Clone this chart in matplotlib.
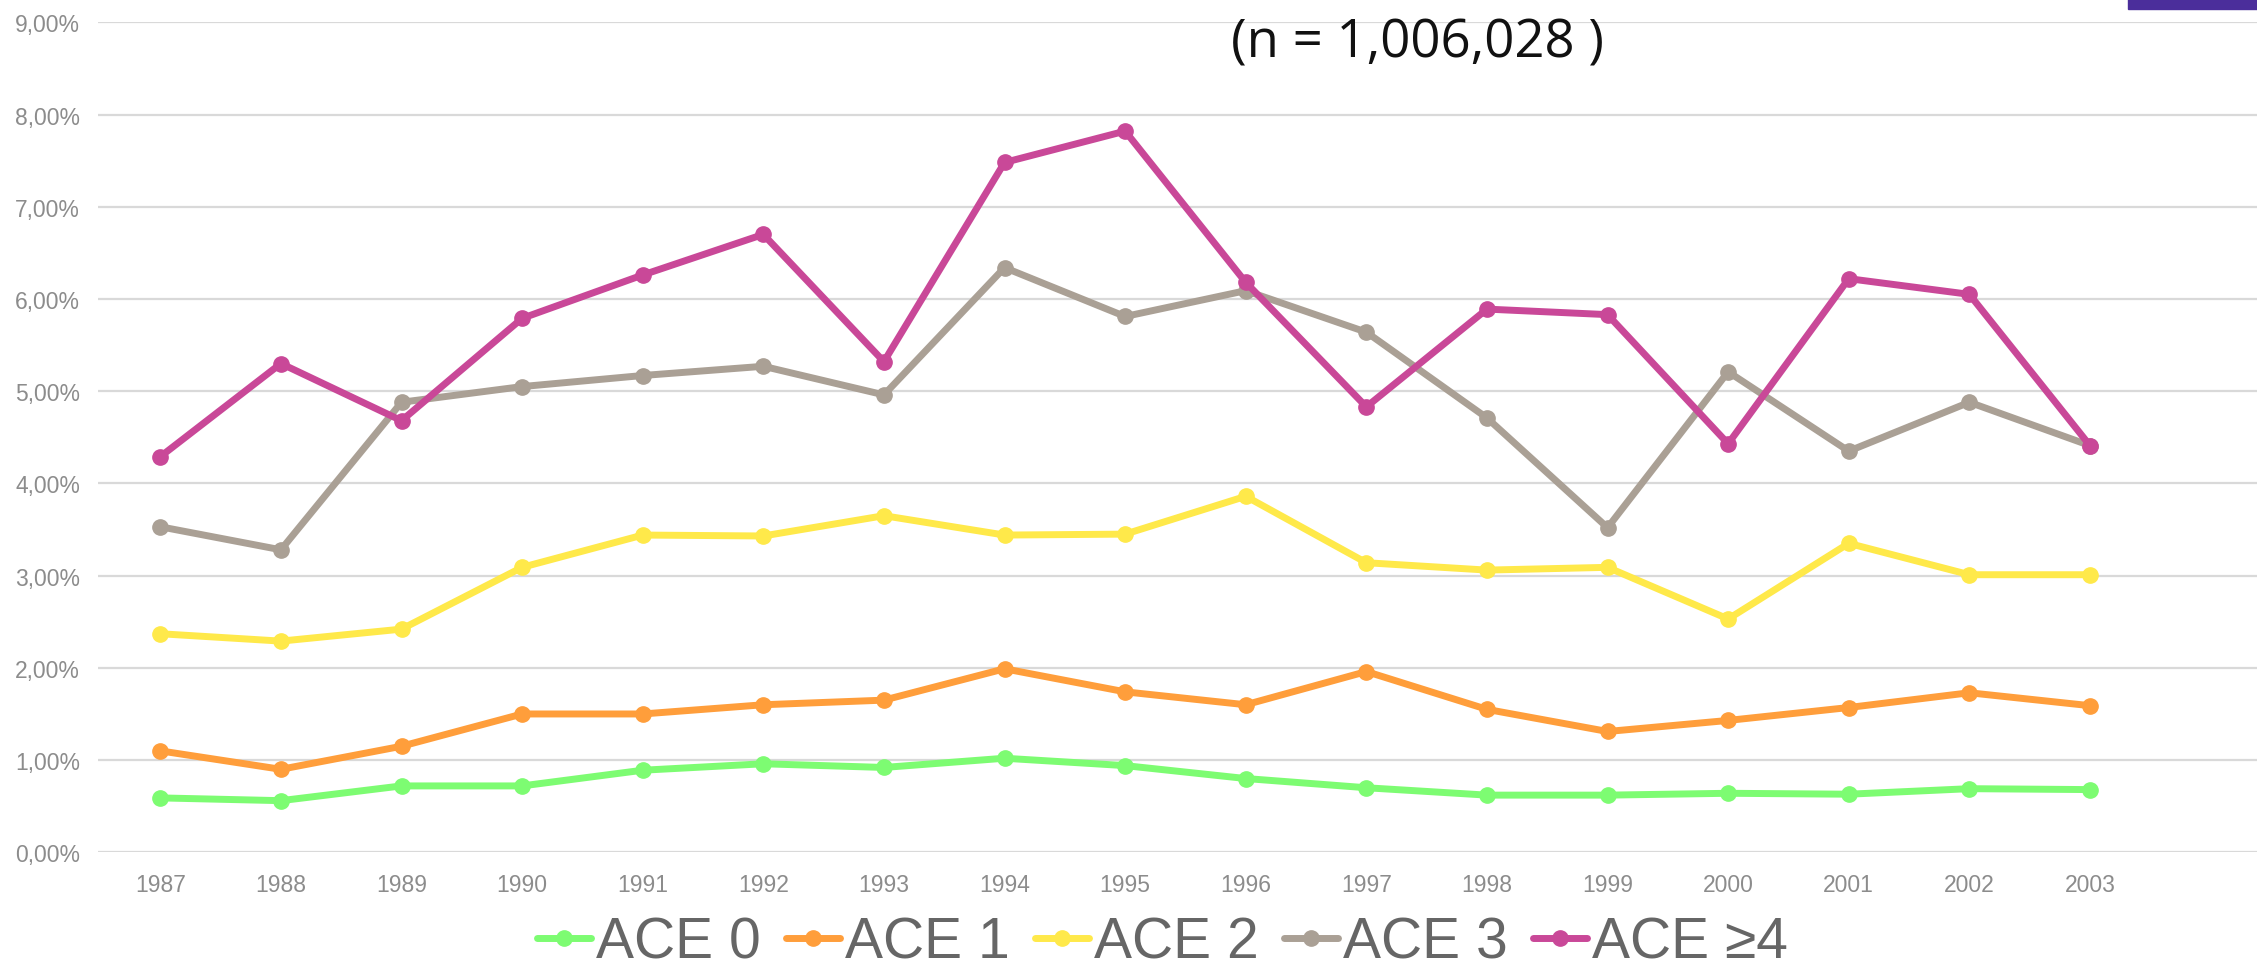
import matplotlib
matplotlib.use('Agg')
import matplotlib.pyplot as plt
from matplotlib.ticker import FuncFormatter
from matplotlib.patches import Rectangle

# data (percent)
years = [1987, 1988, 1989, 1990, 1991, 1992, 1993, 1994, 1995,
         1996, 1997, 1998, 1999, 2000, 2001, 2002, 2003]
ace0 = [0.59, 0.56, 0.72, 0.72, 0.89, 0.96, 0.92, 1.02, 0.94,
        0.80, 0.70, 0.62, 0.62, 0.64, 0.63, 0.69, 0.68]
ace1 = [1.10, 0.90, 1.15, 1.50, 1.50, 1.60, 1.65, 1.99, 1.74,
        1.60, 1.96, 1.55, 1.31, 1.43, 1.57, 1.73, 1.59]
ace2 = [2.37, 2.29, 2.42, 3.09, 3.44, 3.43, 3.65, 3.44, 3.45,
        3.86, 3.14, 3.06, 3.09, 2.53, 3.35, 3.01, 3.01]
ace3 = [3.53, 3.28, 4.88, 5.05, 5.17, 5.27, 4.96, 6.34, 5.81,
        6.09, 5.64, 4.71, 3.52, 5.21, 4.35, 4.88, 4.41]
ace4 = [4.29, 5.30, 4.68, 5.79, 6.26, 6.70, 5.32, 7.48, 7.82,
        6.18, 4.83, 5.89, 5.83, 4.43, 6.22, 6.05, 4.41]
labels = ['ACE 0', 'ACE 1', 'ACE 2', 'ACE 3', 'ACE \u22654']
colors = ['#7dfc72', '#ff9e3b', '#ffe94a', '#aaa095', '#c94898']
title = '(n = 1,006,028 )'

fig = plt.figure(figsize=(22.57, 9.70), dpi=100)
ax = fig.add_axes([0.0434, 0.1203, 0.9566, 0.8557])

for vals, lab, c in zip([ace0, ace1, ace2, ace3, ace4], labels, colors):
    ax.plot(years, vals, color=c, lw=5, marker='o', ms=11,
            solid_joinstyle='round', solid_capstyle='round', label=lab)

ax.set_xlim(1986.483, 2004.385)
ax.set_ylim(0, 9)
ax.set_yticks(range(0, 10))
ax.set_xticks(years)
ax.yaxis.set_major_formatter(FuncFormatter(lambda v, p: ('%.2f%%' % v).replace('.', ',')))
ax.grid(axis='y', color='#d9d9d9', lw=1.6)
ax.set_axisbelow(True)
for s in ax.spines.values():
    s.set_visible(False)
ax.tick_params(length=0, colors='#8c8c8c', labelsize=16.5)
ax.tick_params(axis='y', pad=13)
ax.tick_params(axis='x', pad=15)
for t in ax.get_xticklabels() + ax.get_yticklabels():
    t.set_family(['Liberation Sans', 'DejaVu Sans'])

fig.text(0.628, 0.9546, title, ha='center', va='center', fontsize=38,
         color='#111111', family=['Open Sans', 'DejaVu Sans'])

# purple bar in top right corner
fig.patches.append(Rectangle((2128 / 2257, 1 - 10 / 970), 1, 10 / 970,
                             transform=fig.transFigure, color='#4b2e9b'))

leg = fig.legend(loc='center', bbox_to_anchor=(0.515, 0.027), ncol=5, frameon=False,
                 handlelength=0.95, handletextpad=0.08, columnspacing=0.45,
                 prop={'family': ['Liberation Sans', 'DejaVu Sans'], 'size': 41})
for t in leg.get_texts():
    t.set_color('#666666')

fig.savefig('out.png', dpi=100)
